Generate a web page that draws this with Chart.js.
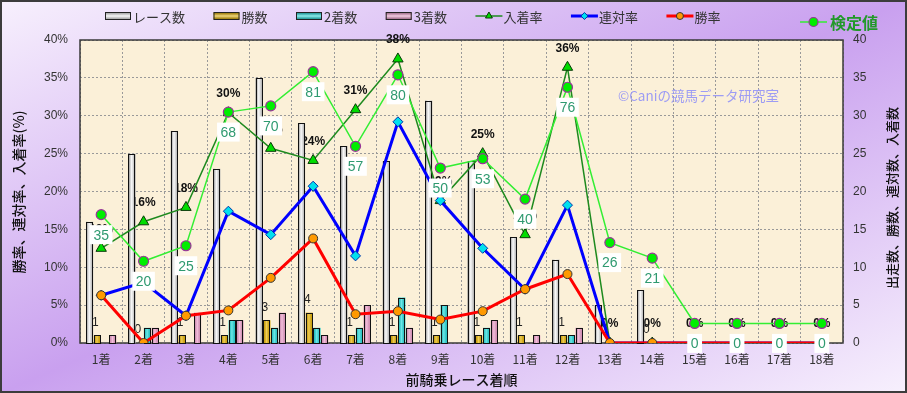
<!DOCTYPE html>
<html lang="ja">
<head>
<meta charset="utf-8">
<title>前騎乗レース着順</title>
<script src="https://cdn.jsdelivr.net/npm/chart.js@4.4.1/dist/chart.umd.min.js"></script>
<style>
  html, body { margin: 0; padding: 0; background: #fff; }
  #myChart { display: block; }
</style>
</head>
<body>
<canvas id="myChart" width="907" height="393"></canvas>
<script>
const categories = ['1着', '2着', '3着', '4着', '5着', '6着', '7着', '8着', '9着',
  '10着', '11着', '12着', '13着', '14着', '15着', '16着', '17着', '18着']

// 件数 (右軸)
const raceCounts = [16, 25, 28, 23, 35, 29, 26, 24, 32, 24, 14, 11, 5, 7, 0, 0, 0, 0]
const winCounts = [1, 0, 1, 1, 3, 4, 1, 1, 1, 1, 1, 1, 0, 0, 0, 0, 0, 0]
const secondCounts = [0, 2, 0, 3, 2, 2, 2, 6, 5, 2, 0, 1, 0, 0, 0, 0, 0, 0]
const thirdCounts = [1, 2, 4, 3, 4, 1, 5, 2, 0, 3, 1, 2, 0, 0, 0, 0, 0, 0]

// 率 (左軸, %)
const placeRate = [12.5, 16.0, 17.9, 30.4, 25.7, 24.1, 30.8, 37.5, 18.8, 25.0, 14.3, 36.4, 0, 0, 0, 0, 0, 0]
const quinellaRate = [6.3, 8.0, 3.6, 17.4, 14.3, 20.7, 11.5, 29.2, 18.8, 12.5, 7.1, 18.2, 0, 0, 0, 0, 0, 0]
const winRate = [6.3, 0, 3.6, 4.3, 8.6, 13.8, 3.8, 4.2, 3.1, 4.2, 7.1, 9.1, 0, 0, 0, 0, 0, 0]

// 検定値
const testValues = [35, 20, 25, 68, 70, 81, 57, 80, 50, 53, 40, 76, 26, 21, 0, 0, 0, 0]

const FONT_JP = '"Noto Sans CJK JP", "Liberation Sans", sans-serif'
const FONT_NUM = '"Liberation Sans", "Noto Sans CJK JP", sans-serif'

const COLORS = {
  race: '#f6f6f6',
  win: '#e8b400',
  second: '#22dede',
  third: '#f0a0cc',
  place: '#1e8a1e',
  quinella: '#0000ff',
  winRate: '#ff0000',
  test: '#33ee33'
}

function marker(ctx, style, x, y, r, fill, stroke, lw) {
  ctx.save()
  ctx.beginPath()
  if (style === 'triangle') {
    const e = r * 3 / Math.sqrt(3)
    const h = e * Math.sqrt(3) / 2
    ctx.moveTo(x - e / 2, y + h / 3)
    ctx.lineTo(x + e / 2, y + h / 3)
    ctx.lineTo(x, y - 2 * h / 3)
    ctx.closePath()
  } else if (style === 'rectRot') {
    ctx.moveTo(x, y - r)
    ctx.lineTo(x + r, y)
    ctx.lineTo(x, y + r)
    ctx.lineTo(x - r, y)
    ctx.closePath()
  } else {
    ctx.arc(x, y, r, 0, Math.PI * 2)
  }
  ctx.fillStyle = fill
  ctx.fill()
  ctx.lineWidth = lw
  ctx.strokeStyle = stroke
  ctx.stroke()
  ctx.restore()
}

const legendItems = [
  { kind: 'box', label: 'レース数', color: COLORS.race },
  { kind: 'box', label: '勝数', color: COLORS.win },
  { kind: 'box', label: '2着数', color: COLORS.second },
  { kind: 'box', label: '3着数', color: COLORS.third },
  { kind: 'line', label: '入着率', color: COLORS.place, width: 1.5, style: 'triangle', r: 4, fill: '#00dd00', stroke: '#0a3a0a' },
  { kind: 'line', label: '連対率', color: COLORS.quinella, width: 3, style: 'rectRot', r: 3.5, fill: '#00e0ee', stroke: '#0033aa' },
  { kind: 'line', label: '勝率', color: COLORS.winRate, width: 3, style: 'circle', r: 3.5, fill: '#ff9900', stroke: '#333' }
]

const decorations = {
  id: 'decorations',
  beforeDraw(chart) {
    const { ctx, width, height, chartArea: a } = chart
    ctx.save()
    const g = ctx.createLinearGradient(310, -134, 597, 527)
    g.addColorStop(0, '#f7f0fd')
    g.addColorStop(0.5, '#c9a0ef')
    g.addColorStop(1, '#f7f0fd')
    ctx.fillStyle = g
    ctx.fillRect(0, 0, width, height)
    ctx.fillStyle = '#fbf0d8'
    ctx.fillRect(a.left, a.top, a.right - a.left, a.bottom - a.top)
    ctx.restore()
  },
  beforeDatasetsDraw(chart) {
    const { ctx, chartArea: a } = chart
    ctx.save()
    // plot border
    ctx.strokeStyle = '#3a3a3a'
    ctx.lineWidth = 1.5
    ctx.strokeRect(a.left, a.top, a.right - a.left, a.bottom - a.top)

    // watermark
    ctx.font = '13.5px ' + FONT_JP
    ctx.fillStyle = '#9d9cf4'
    ctx.textAlign = 'left'
    ctx.textBaseline = 'middle'
    ctx.fillText('©Caniの競馬データ研究室', 618, 96)

    // 入着率 labels (under the bars, like the original)
    const placeMeta = chart.getDatasetMeta(3)
    ctx.font = 'bold 12px ' + FONT_NUM
    ctx.fillStyle = '#111'
    ctx.textAlign = 'center'
    placeMeta.data.forEach((pt, i) => {
      ctx.fillText(Math.round(placeRate[i]) + '%', pt.x, pt.y - 19)
    })

    // 勝数 labels
    const winMeta = chart.getDatasetMeta(5)
    ctx.font = '12px ' + FONT_NUM
    ctx.fillStyle = '#222'
    winMeta.data.forEach((bar, i) => {
      if (raceCounts[i] > 0) ctx.fillText(String(winCounts[i]), bar.x - 2, bar.y - 13)
    })
    ctx.restore()
  },
  afterDatasetDraw(chart, args) {
    const ds = chart.data.datasets[args.index]
    if (ds.type !== 'bar') return
    const ctx = chart.ctx
    const strong = ds.label === 'レース数'
    ctx.save()
    args.meta.data.forEach(bar => {
      const h = bar.base - bar.y
      if (h < 0.5) return
      const l = bar.x - bar.width / 2
      const g = ctx.createLinearGradient(l, 0, l + bar.width, 0)
      g.addColorStop(0, strong ? 'rgba(0,0,0,0.5)' : 'rgba(0,0,0,0.12)')
      g.addColorStop(0.45, 'rgba(255,255,255,0.35)')
      g.addColorStop(1, strong ? 'rgba(0,0,0,0.35)' : 'rgba(0,0,0,0.1)')
      ctx.fillStyle = g
      ctx.fillRect(l, bar.y, bar.width, h)
      ctx.strokeStyle = '#111'
      ctx.lineWidth = 1
      ctx.strokeRect(Math.round(l) + 0.5, Math.round(bar.y) + 0.5, Math.round(bar.width) - 1, Math.round(h))
    })
    ctx.restore()
  },
  afterDatasetsDraw(chart) {
    const ctx = chart.ctx
    const meta = chart.getDatasetMeta(0)
    ctx.save()
    ctx.font = '14px ' + FONT_NUM
    ctx.textAlign = 'center'
    ctx.textBaseline = 'middle'
    meta.data.forEach((pt, i) => {
      const text = String(testValues[i])
      const w = ctx.measureText(text).width + 7
      const cy = pt.y + 20
      ctx.fillStyle = '#ffffff'
      ctx.fillRect(pt.x - w / 2, cy - 9.5, w, 19)
      ctx.fillStyle = '#2f9a70'
      ctx.fillText(text, pt.x, cy + 1)
    })
    ctx.restore()
  },
  afterDraw(chart) {
    const { ctx, width, height, chartArea: a } = chart
    ctx.save()
    ctx.textBaseline = 'middle'
    ctx.textAlign = 'left'

    // legend
    ctx.font = '13px ' + FONT_JP
    let x = 105
    const y = 16
    legendItems.forEach(item => {
      if (item.kind === 'box') {
        ctx.fillStyle = item.color
        ctx.fillRect(x, y - 3.5, 26, 7)
        const g = ctx.createLinearGradient(0, y - 3.5, 0, y + 3.5)
        g.addColorStop(0, 'rgba(0,0,0,0.35)')
        g.addColorStop(0.5, 'rgba(255,255,255,0.5)')
        g.addColorStop(1, 'rgba(0,0,0,0.35)')
        ctx.fillStyle = g
        ctx.fillRect(x, y - 3.5, 26, 7)
        ctx.strokeStyle = '#222'
        ctx.lineWidth = 1
        ctx.strokeRect(x + 0.5, y - 3.5, 25, 7)
      } else {
        ctx.strokeStyle = item.color
        ctx.lineWidth = item.width
        ctx.beginPath()
        ctx.moveTo(x, y)
        ctx.lineTo(x + 27, y)
        ctx.stroke()
        marker(ctx, item.style, x + 13.5, y, item.r, item.fill, item.stroke, 1)
      }
      ctx.fillStyle = '#333'
      ctx.fillText(item.label, x + 28, y + 1)
      x += 28 + ctx.measureText(item.label).width + 28.5
    })

    // 検定値 legend
    ctx.strokeStyle = COLORS.test
    ctx.lineWidth = 1.5
    ctx.beginPath()
    ctx.moveTo(800, 22)
    ctx.lineTo(827, 22)
    ctx.stroke()
    marker(ctx, 'circle', 813.5, 22, 4.5, '#00ee00', '#993399', 1.2)
    ctx.font = 'bold 16px ' + FONT_JP
    ctx.fillStyle = '#22992a'
    ctx.fillText('検定値', 830, 23)

    // axis titles
    ctx.fillStyle = '#111'
    ctx.textAlign = 'center'
    ctx.font = '500 14px ' + FONT_JP
    ctx.save()
    ctx.translate(19, 192)
    ctx.rotate(-Math.PI / 2)
    ctx.fillText('勝率、連対率、入着率(%)', 0, 0)
    ctx.restore()

    ctx.font = '500 13px ' + FONT_JP
    ctx.save()
    ctx.translate(892, 198)
    ctx.rotate(-Math.PI / 2)
    ctx.fillText('出走数、勝数、連対数、入着数', 0, 0)
    ctx.restore()

    ctx.font = '500 14px ' + FONT_JP
    ctx.fillText('前騎乗レース着順', (a.left + a.right) / 2, 380)

    // outer frame
    ctx.strokeStyle = '#3c3c3c'
    ctx.lineWidth = 2
    ctx.strokeRect(1, 1, width - 2, height - 2)
    ctx.restore()
  }
}

const smallRadius = r => c => c.dataIndex < 14 ? r : 0

const view = {
  showChart() {
    const canvas = document.querySelector('#myChart')
    const ctx = canvas.getContext('2d')
    Chart.defaults.font.family = FONT_NUM

    const barBase = {
      type: 'bar',
      yAxisID: 'yR',
      borderWidth: 0,
      barPercentage: 0.92,
      categoryPercentage: 0.73
    }

    return new Chart(ctx, {
      data: {
        labels: categories,
        datasets: [
          {
            type: 'line', label: '検定値', data: testValues, yAxisID: 'yK', order: 1,
            borderColor: COLORS.test, borderWidth: 1.5, tension: 0, fill: false,
            pointStyle: 'circle', pointRadius: 5,
            pointBackgroundColor: '#00ee00', pointBorderColor: '#993399', pointBorderWidth: 1.2
          },
          {
            type: 'line', label: '勝率', data: winRate, yAxisID: 'yL', order: 2,
            borderColor: COLORS.winRate, borderWidth: 3, tension: 0, fill: false,
            pointStyle: 'circle', pointRadius: smallRadius(4.5),
            pointBackgroundColor: '#ff9900', pointBorderColor: '#333', pointBorderWidth: 1
          },
          {
            type: 'line', label: '連対率', data: quinellaRate, yAxisID: 'yL', order: 3,
            borderColor: COLORS.quinella, borderWidth: 3, tension: 0, fill: false,
            pointStyle: 'rectRot', pointRadius: smallRadius(5),
            pointBackgroundColor: '#00e0ee', pointBorderColor: '#0033aa', pointBorderWidth: 1
          },
          {
            type: 'line', label: '入着率', data: placeRate, yAxisID: 'yL', order: 4,
            borderColor: COLORS.place, borderWidth: 1.5, tension: 0, fill: false,
            pointStyle: 'triangle', pointRadius: smallRadius(6),
            pointBackgroundColor: '#00dd00', pointBorderColor: '#0a3a0a', pointBorderWidth: 1
          },
          { ...barBase, label: 'レース数', data: raceCounts, order: 5, backgroundColor: COLORS.race },
          { ...barBase, label: '勝数', data: winCounts, order: 6, backgroundColor: COLORS.win },
          { ...barBase, label: '2着数', data: secondCounts, order: 7, backgroundColor: COLORS.second },
          { ...barBase, label: '3着数', data: thirdCounts, order: 8, backgroundColor: COLORS.third }
        ]
      },
      options: {
        responsive: false,
        animation: false,
        layout: { padding: { top: 40, left: 0, right: 0, bottom: 0 } },
        plugins: {
          legend: { display: false },
          title: { display: false },
          tooltip: { enabled: false }
        },
        scales: {
          x: {
            offset: true,
            grid: { color: '#999', lineWidth: 1, drawTicks: false, offset: true },
            border: { display: false, dash: [2, 2] },
            ticks: { color: '#333', padding: 9, font: { size: 12, family: FONT_JP }, maxRotation: 0, autoSkip: false },
            afterFit: s => { s.height = 50 }
          },
          yL: {
            position: 'left',
            min: 0, max: 40,
            grid: { color: '#999', lineWidth: 1, drawTicks: false },
            border: { display: false, dash: [2, 2] },
            ticks: { stepSize: 5, color: '#333', padding: 12, font: { size: 12 }, callback: v => v + '%' },
            afterFit: s => { s.width = 80 }
          },
          yR: {
            position: 'right',
            min: 0, max: 40,
            grid: { display: false, drawTicks: false },
            border: { display: false },
            ticks: { stepSize: 5, color: '#333', padding: 10, font: { size: 12 } },
            afterFit: s => { s.width = 64 }
          },
          yK: {
            display: false,
            min: -6.3, max: 91.2
          }
        }
      },
      plugins: [decorations]
    })
  }
}

view.showChart()
</script>
</body>
</html>
